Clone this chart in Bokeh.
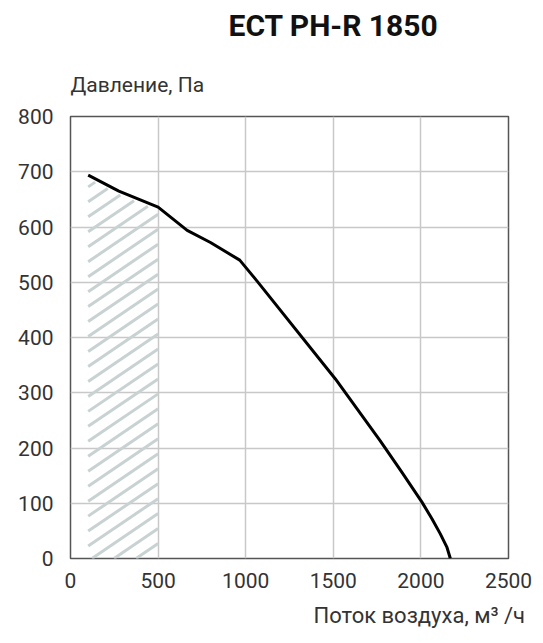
import numpy as np
from bokeh.plotting import figure
from bokeh.models import Title, Range1d, FixedTicker
from bokeh.embed import file_html
from bokeh.resources import INLINE

title_text = "ECT PH-R 1850"
y_title = "Давление, Па"
x_title = "Поток воздуха, м³ /ч"

flow = [101, 276, 500, 666, 799, 966, 1065, 1512, 1768, 1892, 2006, 2063, 2110, 2149, 2168]
pressure = [694, 665, 636, 594, 572, 540, 502, 325, 213, 156, 102, 72, 45, 20, 0]

zone_min = 101
zone_max = 500

x_ticks = [0, 500, 1000, 1500, 2000, 2500]
y_ticks = [0, 100, 200, 300, 400, 500, 600, 700, 800]

FONT = "Roboto"
TXT = "#333333"

FRAME_W, FRAME_H = 438, 443
BL, BR, BT, BB = 70, 27, 115, 80

p = figure(width=BL + FRAME_W + BR, height=BT + FRAME_H + BB,
           output_backend="svg", toolbar_location=None,
           x_range=Range1d(0, 2500), y_range=Range1d(0, 800),
           min_border_left=BL, min_border_right=BR, min_border_top=BT, min_border_bottom=BB)
p.background_fill_color = "white"
p.border_fill_color = "white"
p.outline_line_color = "#555555"
p.outline_line_width = 1.5

for ax in (p.xaxis[0], p.yaxis[0]):
    ax.axis_line_color = None
    ax.major_tick_line_color = None
    ax.minor_tick_line_color = None
    ax.major_tick_out = 0
    ax.major_tick_in = 0
    ax.major_label_text_font = FONT
    ax.major_label_text_font_size = "21px"
    ax.major_label_text_color = TXT
p.xaxis.ticker = FixedTicker(ticks=x_ticks)
p.yaxis.ticker = FixedTicker(ticks=y_ticks)
p.xaxis.major_label_standoff = 14
p.yaxis.major_label_standoff = 17

p.xgrid.ticker = FixedTicker(ticks=x_ticks)
p.ygrid.ticker = FixedTicker(ticks=y_ticks)
p.grid.grid_line_color = "#c8c8c8"
p.grid.grid_line_width = 1.5

# hatched zone under the curve between zone_min and zone_max, drawn as
# shallow diagonal strokes (screen slope ~0.68, ~15 px vertical pitch)
fx = np.array(flow, dtype=float)
fy = np.array(pressure, dtype=float)
px_per_x = FRAME_W / 2500.0
px_per_y = FRAME_H / 800.0
slope = 0.68 * px_per_x / px_per_y
pitch = 15.0 / px_per_y
xs_dense = np.linspace(zone_min, zone_max, 800)
top_dense = np.interp(xs_dense, fx, fy)
seg_x, seg_y = [], []
c = -slope * zone_max
while c < top_dense.max():
    yl = slope * xs_dense + c
    ok = (yl >= 0) & (yl <= top_dense - 6)
    if ok.any():
        idx = np.where(ok)[0]
        seg_x.append([xs_dense[idx[0]], xs_dense[idx[-1]]])
        seg_y.append([yl[idx[0]], yl[idx[-1]]])
    c += pitch
p.multi_line(seg_x, seg_y, line_color="#c8d2d2", line_width=3)

p.line(flow, pressure, line_color="black", line_width=3, line_join="round")

main_t = Title(text=title_text, align="left", offset=158, text_font=FONT,
               text_font_style="bold", text_font_size="30px", text_color="#111111",
               standoff=0, padding=dict(left=0, right=0, top=5, bottom=28))
ylab_t = Title(text=y_title, align="left", offset=0, text_font=FONT,
               text_font_style="normal", text_font_size="21px", text_color=TXT,
               standoff=0, padding=dict(left=0, right=0, top=0, bottom=20))
p.title = None
p.above = [ylab_t, main_t]
xlab_t = Title(text=x_title, align="left", offset=243, text_font=FONT,
               text_font_style="normal", text_font_size="22px", text_color=TXT,
               standoff=20)
p.add_layout(xlab_t, "below")

open("out.html", "w").write(file_html(p, INLINE))
